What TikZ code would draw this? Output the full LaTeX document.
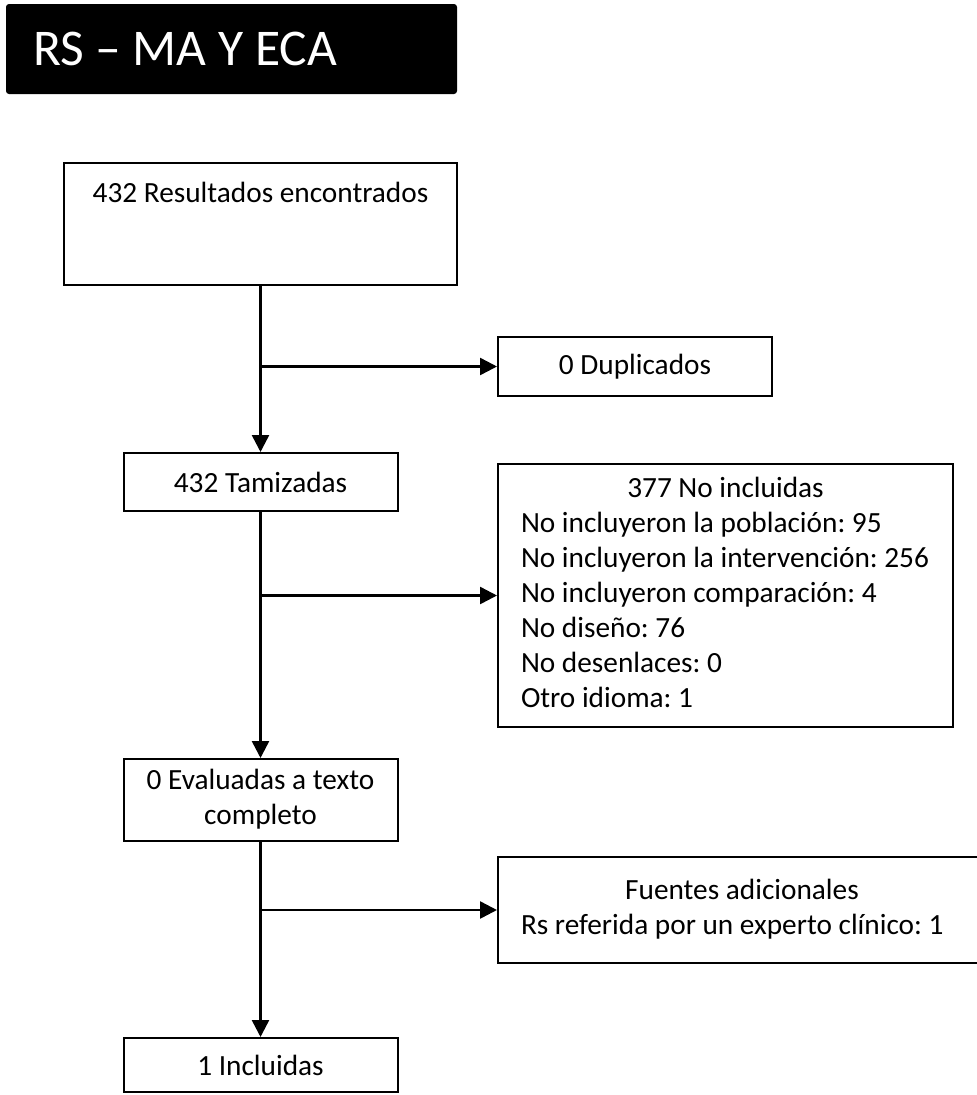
\documentclass[tikz,border=0pt]{standalone}
\usepackage{fontspec}
\setmainfont{Carlito}
\usetikzlibrary{positioning,arrows.meta}
\frenchspacing

\begin{document}
\begin{tikzpicture}[x=1pt,y=-1pt,
    caja/.style={draw=black, line width=2pt, font=\fontsize{29.3}{35}\selectfont, inner sep=0pt},
    flecha/.style={line width=2.5pt, -{Triangle[length=17pt,width=17pt]}}]
  \useasboundingbox (0,0) rectangle (977,1095);
  % Title banner
  \node[fill=black, rounded corners=3pt, minimum height=90pt, inner xsep=27pt, text=white,
    font=\fontsize{51.5}{60}\selectfont] (titulo) at (231.5,49) {\makebox[397pt][l]{RS – MA Y ECA}};
  % Main column
  \node[caja, minimum width=393pt, text height=39pt, text depth=83pt] (res) at (260.5,224) {432 Resultados encontrados};
  \node[caja, minimum width=274pt, minimum height=58pt] (tam) at (260.5,482) {432 Tamizadas};
  \node[caja, minimum width=274pt, minimum height=82pt] (eva) at (260.5,800)
    {\begin{tabular}{@{}c@{}}0 Evaluadas a texto\\completo\end{tabular}};
  \node[caja, minimum width=274pt, minimum height=54pt] (inc) at (260.5,1065) {1 Incluidas};
  % Side boxes
  \node[caja, minimum width=274pt, minimum height=59pt] (dup) at (635,366.5) {0 Duplicados};
  \node[caja, minimum width=455pt, minimum height=263pt] (excl) at (725.5,595.5)
    {\begin{tabular}{@{}p{409pt}@{}}
     \multicolumn{1}{@{}c@{}}{377 No incluidas}\\
     No incluyeron la población: 95\\
     No incluyeron la intervención: 256\\
     No incluyeron comparación: 4\\
     No diseño: 76\\
     No desenlaces: 0\\
     Otro idioma: 1
     \end{tabular}};
  \node[caja, minimum width=488pt, minimum height=106pt] (fuentes) at (742,910)
    {\begin{tabular}{@{}p{442pt}@{}}
     \multicolumn{1}{@{}c@{}}{Fuentes adicionales}\\
     Rs referida por un experto clínico: 1
     \end{tabular}};
  % Connectors
  \draw[flecha] (res) -- (tam);
  \draw[flecha] (tam) -- (eva);
  \draw[flecha] (eva) -- (inc);
  \draw[flecha] (res.south |- dup.west) -- (dup.west);
  \draw[flecha] (tam.south |- excl.west) -- (excl.west);
  \draw[flecha] (eva.south |- fuentes.west) -- (fuentes.west);
\end{tikzpicture}
\end{document}
